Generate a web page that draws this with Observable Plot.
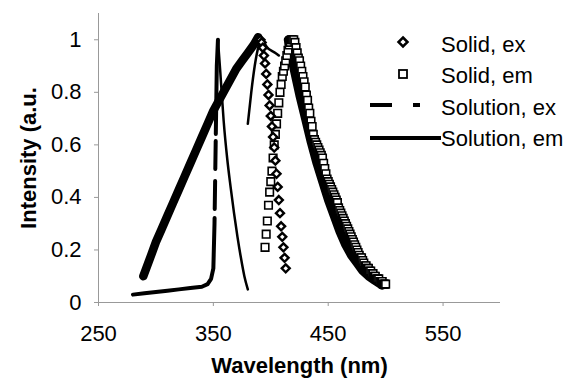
<!DOCTYPE html>
<html><head><meta charset="utf-8">
<script src="https://cdn.jsdelivr.net/npm/d3@7"></script>
<script src="https://cdn.jsdelivr.net/npm/@observablehq/plot@0.6"></script>
<style>
body{margin:0;background:#fff;}
#wrap{position:relative;width:571px;height:380px;background:#fff;}
#wrap svg{position:absolute;left:0;top:0;}
[aria-label="x-axis label"] text, [aria-label="y-axis label"] text{font-weight:bold;font-size:22px;}
</style></head><body><div id="wrap"></div>
<script>
// ---- tick values / labels ----
const xTicks = [250, 350, 450, 550];
const yTicks = [0, 0.2, 0.4, 0.6, 0.8, 1];
const yTickLabels = ["0", "0.2", "0.4", "0.6", "0.8", "1"];
const seriesNames = ["Solid, ex", "Solid, em", "Solution, ex", "Solution, em"];

// ---- Solid, ex (diamonds) ----
const solidExNm = [391,392,393,394,395,396,397,398,399,400,401,402,403,404,405,406,407,408,409,410,411,412,413];
const solidExI  = [1.0,0.99,0.97,0.94,0.91,0.87,0.83,0.79,0.75,0.71,0.67,0.63,0.59,0.54,0.49,0.44,0.39,0.34,0.29,0.25,0.21,0.17,0.13];

// ---- Solid, em (squares) ----
const solidEmNm = [395,396,397,398,399,400,401,402,403,404,405,406,407,408,409,410,411,412,413,414,415,416,417,418,419,420,421,
  422,423,424,425,426,427,428,429,430,431,432,433,434,435,436,437,438,439,440,441,442,443,444,445,446,447,448,449,450,
  451,452,453,454,455,456,457,458,459,460,461,462,463,464,465,466,467,468,469,470,471,472,473,474,475,476,477,478,479,480,
  481,482,483,484,485,486,487,488,489,490,491,492,493,494,495,496,497,498,499,500];
const solidEmI  = [0.21,0.26,0.31,0.37,0.42,0.46,0.50,0.55,0.60,0.64,0.68,0.72,0.76,0.80,0.83,0.86,0.88,0.90,0.92,0.94,0.96,0.98,0.99,1.0,1.0,1.0,0.99,
  0.97,0.95,0.93,0.92,0.90,0.88,0.86,0.84,0.82,0.79,0.77,0.74,0.72,0.69,0.67,0.64,0.62,0.61,0.60,0.59,0.58,0.57,0.56,0.55,0.53,0.51,0.49,0.47,0.46,
  0.45,0.44,0.43,0.42,0.41,0.40,0.39,0.38,0.36,0.35,0.34,0.33,0.32,0.31,0.30,0.29,0.28,0.27,0.26,0.25,0.24,0.23,0.22,0.21,0.20,0.19,0.18,0.17,0.17,0.16,
  0.15,0.14,0.14,0.13,0.13,0.12,0.12,0.11,0.11,0.10,0.10,0.09,0.09,0.09,0.08,0.08,0.08,0.07,0.07,0.07];

// ---- Solution, ex ----
const solutionExRiseNm = [280,290,300,310,320,330,340,345,348,350,351,352,353,354];
const solutionExRiseI  = [0.03,0.035,0.04,0.045,0.05,0.055,0.06,0.07,0.09,0.13,0.3,0.6,0.9,1.0];
const solutionExFallNm = [354,356,359,362,365,368,371,374,377,380];
const solutionExFallI  = [1.0,0.88,0.69,0.55,0.44,0.34,0.25,0.17,0.10,0.05];

// ---- Solution, em ----
const solutionEmRiseNm = [289,295,300,305,310,315,320,325,330,335,340,345,350,355,360,365,370,375,380,385,389];
const solutionEmRiseI  = [0.10,0.17,0.23,0.28,0.33,0.38,0.43,0.48,0.53,0.58,0.63,0.68,0.73,0.77,0.81,0.85,0.89,0.92,0.95,0.98,1.01];
const solutionEmPeakNm = [380,383,386,389,391,394,397,400,404,407];
const solutionEmPeakI  = [0.68,0.80,0.90,0.97,1.0,0.99,0.97,0.96,0.95,0.94];
const solutionEmFallNm = [415,420,425,430,435,440,445,450,455,460,465,470,475,480,485,490,497];
const solutionEmFallI  = [1.0,0.89,0.79,0.70,0.61,0.53,0.46,0.39,0.33,0.27,0.22,0.18,0.15,0.12,0.10,0.085,0.065];

const rows = (xs, ys) => xs.map((x, i) => ({nm: x, v: ys[i]}));
const yLabelMap = new Map(yTicks.map((t, i) => [t, yTickLabels[i]]));

const chart = Plot.plot({
  width: 571, height: 380,
  marginLeft: 98, marginRight: 71, marginTop: 13, marginBottom: 78,
  style: {fontFamily: "'Liberation Sans', Arial, sans-serif", fontSize: "22px", color: "black", background: "white"},
  x: {domain: [250, 600]},
  y: {domain: [0, 1.1]},
  marks: [
    Plot.ruleX([250], {stroke: "#999", strokeWidth: 1}),
    Plot.ruleY([0], {stroke: "#999", strokeWidth: 1}),
    Plot.axisX(xTicks, {tickSize: 4, tickPadding: 19, stroke: "#999", fill: "black", fontSize: 22,
      label: "Wavelength (nm)", labelAnchor: "center", labelOffset: 70, labelArrow: "none"}),
    Plot.axisY(yTicks, {tickSize: 4, tickPadding: 13, stroke: "#999", fill: "black", fontSize: 22,
      tickFormat: d => yLabelMap.get(d), label: "Intensity (a.u.", labelAnchor: "center", labelOffset: 78, labelArrow: "none"}),
    Plot.line(rows(solutionExRiseNm, solutionExRiseI), {x: "nm", y: "v", stroke: "black", strokeWidth: 4,
      strokeDasharray: "143,9,28,12,28,7,300", strokeLinejoin: "round"}),
    Plot.line(rows(solutionExFallNm, solutionExFallI), {x: "nm", y: "v", stroke: "black", strokeWidth: 2.5, curve: "monotone-x"}),
    Plot.line(rows(solutionEmPeakNm, solutionEmPeakI), {x: "nm", y: "v", stroke: "black", strokeWidth: 2.5, curve: "monotone-x"}),
    Plot.line(rows(solutionEmRiseNm, solutionEmRiseI), {x: "nm", y: "v", stroke: "black", strokeWidth: 8.5,
      strokeLinecap: "round", strokeLinejoin: "round"}),
    Plot.line(rows(solutionEmFallNm, solutionEmFallI), {x: "nm", y: "v", stroke: "black", strokeWidth: 8.5,
      strokeLinecap: "round", strokeLinejoin: "round"}),
    Plot.dot(rows(solidEmNm, solidEmI), {x: "nm", y: "v", symbol: "square2", r: 4.8, stroke: "black", fill: "white", strokeWidth: 1.6}),
    Plot.dot(rows(solidExNm, solidExI), {x: "nm", y: "v", symbol: "diamond2", r: 3.6, stroke: "black", fill: "white", strokeWidth: 2.4})
  ]
});
document.getElementById("wrap").appendChild(chart);

// ---- legend overlay ----
const ns = "http://www.w3.org/2000/svg";
const lg = document.createElementNS(ns, "svg");
lg.setAttribute("width", 571); lg.setAttribute("height", 380);
lg.style.pointerEvents = "none";
lg.innerHTML = `
  <path d="M403,37.5 L407.5,42 L403,46.5 L398.5,42Z" fill="white" stroke="black" stroke-width="2.5"/>
  <rect x="399" y="70" width="8" height="8" fill="white" stroke="black" stroke-width="1.8"/>
  <line x1="370" y1="105" x2="392" y2="105" stroke="black" stroke-width="4"/>
  <line x1="413" y1="105" x2="420" y2="105" stroke="black" stroke-width="4"/>
  <line x1="370" y1="138" x2="441" y2="138" stroke="black" stroke-width="4"/>
`;
const baselines = [52, 83, 115, 146];
seriesNames.forEach((name, i) => {
  const t = document.createElementNS(ns, "text");
  t.setAttribute("x", 441); t.setAttribute("y", baselines[i]);
  t.setAttribute("font-family", "'Liberation Sans', Arial, sans-serif");
  t.setAttribute("font-size", "22");
  t.setAttribute("fill", "black");
  t.textContent = name;
  lg.appendChild(t);
});
document.getElementById("wrap").appendChild(lg);
</script>
</body></html>
